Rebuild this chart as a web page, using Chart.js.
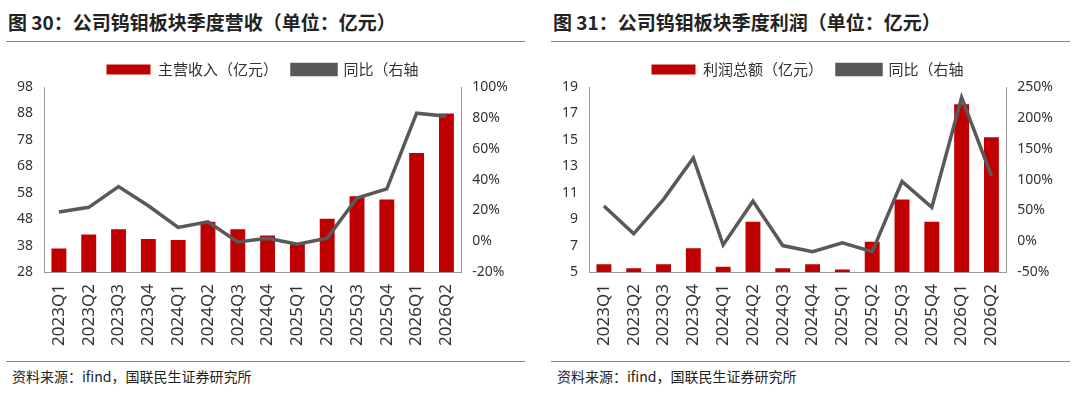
<!DOCTYPE html>
<html><head><meta charset="utf-8">
<script src="https://cdn.jsdelivr.net/npm/chart.js@4"></script>
<style>
body{margin:0;width:1080px;height:410px;background:#fff;font-family:"Noto Sans CJK SC","Noto Sans",sans-serif;position:relative;overflow:hidden}
.panel{position:absolute;top:0;width:525px;height:410px}
.title{position:absolute;left:8px;top:8px;font-size:19px;font-weight:bold;color:#222}
.rule{position:absolute;left:6px;right:0;height:1px;background:#888}
.src{position:absolute;left:12px;top:366px;font-size:14px;color:#222}
.box{position:absolute;left:0;top:48px;width:525px;height:302px}
</style></head><body>
<div class="panel" style="left:0">
  <div class="title">图 30：公司钨钼板块季度营收（单位：亿元）</div>
  <div class="rule" style="top:41px"></div>
  <div class="box"><canvas id="c1"></canvas></div>
  <div class="rule" style="top:361px"></div>
  <div class="src">资料来源：ifind，国联民生证券研究所</div>
</div>
<div class="panel" style="left:545px">
  <div class="title">图 31：公司钨钼板块季度利润（单位：亿元）</div>
  <div class="rule" style="top:41px"></div>
  <div class="box"><canvas id="c2"></canvas></div>
  <div class="rule" style="top:361px"></div>
  <div class="src">资料来源：ifind，国联民生证券研究所</div>
</div>
<script>
const quarters = ['2023Q1','2023Q2','2023Q3','2023Q4','2024Q1','2024Q2','2024Q3','2024Q4','2025Q1','2025Q2','2025Q3','2025Q4','2026Q1','2026Q2'];
const revenue = [36.9,42.2,44.2,40.5,40.1,47,44.2,41.8,39,48.2,56.7,55.5,73,88];
const revenueYoY = [19,22,35.5,23,9,12.6,-0.5,2,-2,2,28,34,83,81];
const profit = [5.6,5.3,5.6,6.8,5.4,8.8,5.3,5.6,5.2,7.3,10.5,8.8,17.7,15.2];
const profitYoY = [57,12,68,135,-6,65,-7,-17,-2.5,-17,97,55,233,106];

const tick = {color:'#333',font:{size:14,family:'"Noto Sans","Noto Sans CJK SC",sans-serif'}};
function make(id, barLabel, bars, yoy, y, y1){
  new Chart(document.getElementById(id), {
    data:{labels:quarters, datasets:[
      {type:'line',label:'同比（右轴',data:yoy,yAxisID:'y1',borderColor:'#595959',backgroundColor:'#595959',borderWidth:3.5,pointRadius:0,tension:0,order:0},
      {type:'bar',label:barLabel,data:bars,yAxisID:'y',backgroundColor:'#C00000',barPercentage:0.5,categoryPercentage:1,order:1}
    ]},
    options:{responsive:true,maintainAspectRatio:false,animation:false,
      layout:{padding:{left:14,right:14,top:0,bottom:0}},
      plugins:{legend:{reverse:true,labels:{boxWidth:44,boxHeight:10,padding:14,color:'#333',font:{size:15,family:'"Noto Sans CJK SC",sans-serif'}}},tooltip:{enabled:false}},
      scales:{
        x:{grid:{display:false},border:{color:'#999'},ticks:Object.assign({},tick,{maxRotation:90,minRotation:90,padding:4,font:{size:17,family:tick.font.family}})},
        y:Object.assign({position:'left',grid:{display:false},border:{color:'#999'},ticks:Object.assign({},tick,{stepSize:y.step})},y),
        y1:Object.assign({position:'right',grid:{display:false},border:{color:'#999'},ticks:Object.assign({},tick,{stepSize:y1.step,callback:v=>v+'%'})},y1)
      }}
  });
}
make('c1','主营收入（亿元）',revenue,revenueYoY,{min:28,max:98,step:10},{min:-20,max:100,step:20});
make('c2','利润总额（亿元）',profit,profitYoY,{min:5,max:19,step:2},{min:-50,max:250,step:50});
</script>
</body></html>
